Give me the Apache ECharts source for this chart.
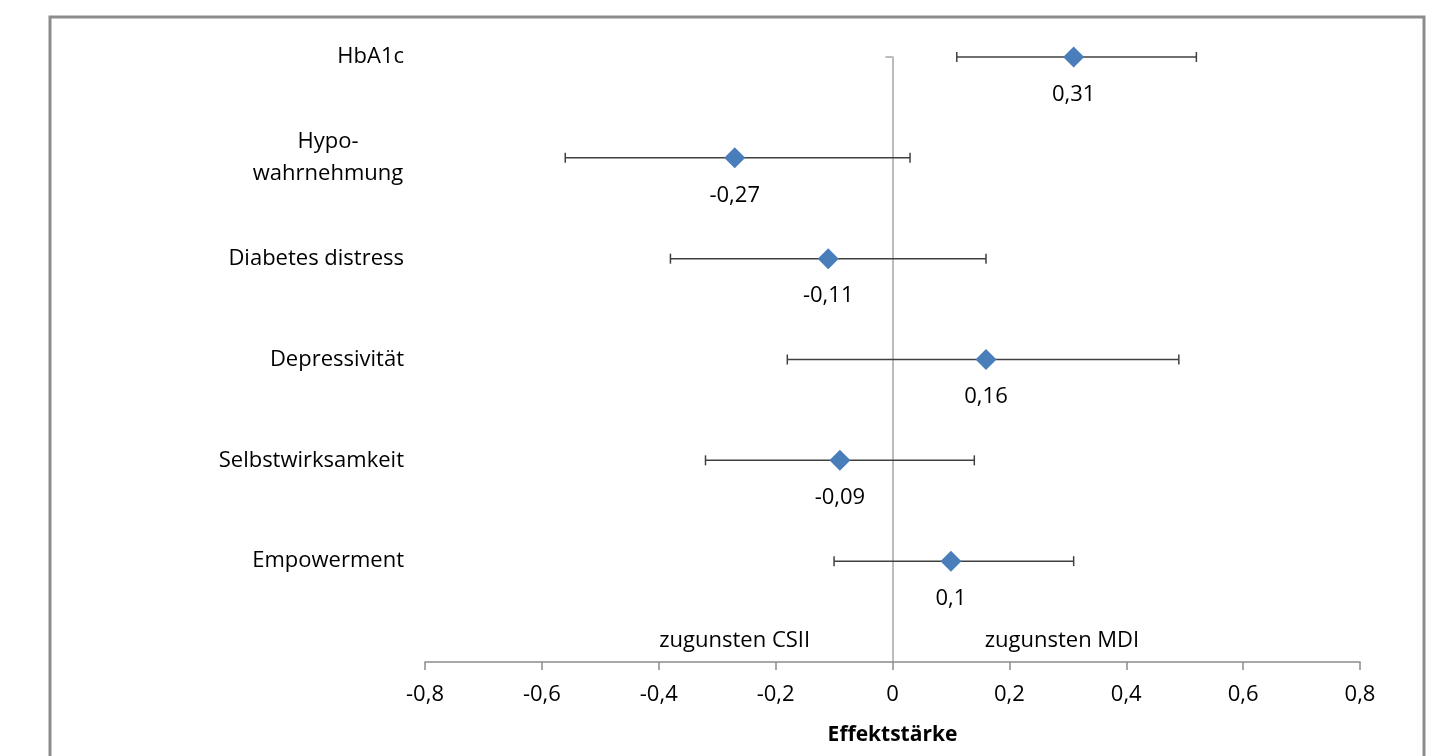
<!DOCTYPE html>
<html lang="de">
<head>
  <meta charset="UTF-8">
  <title>Effektstärke</title>
  <script src="https://cdn.jsdelivr.net/npm/echarts@6/dist/echarts.min.js"></script>
  <style>
    html, body { margin: 0; padding: 0; background: #fff; }
  </style>
</head>
<body>
  <div id="app" style="width: 1441px; height: 756px;"></div>
  <script>
    // Outcomes von oben nach unten
    var outcomes = ['HbA1c', 'Hypo-\nwahrnehmung', 'Diabetes distress', 'Depressivität', 'Selbstwirksamkeit', 'Empowerment']
    var effect = [0.31, -0.27, -0.11, 0.16, -0.09, 0.1]
    var ciLow = [0.11, -0.56, -0.38, -0.18, -0.32, -0.10]
    var ciHigh = [0.52, 0.03, 0.16, 0.49, 0.14, 0.31]

    var noteText = ['zugunsten CSII', 'zugunsten MDI']
    var noteX = [-0.27, 0.29]
    var noteY = [0.21, 0.21]

    var font = 'Open Sans'
    var fs = 22
    var n = outcomes.length

    function comma(v) {
      return String(v).replace('.', ',')
    }

    var points = []
    var bars = []
    for (var i = 0; i < n; i++) {
      var y = n - i
      points.push([effect[i], y])
      bars.push([ciLow[i], ciHigh[i], y])
    }
    var notes = []
    for (var j = 0; j < noteText.length; j++) {
      notes.push({ value: [noteX[j], noteY[j]], name: noteText[j] })
    }

    var app = document.querySelector('#app')
    var mCharts = echarts.init(app)
    var option = {
      animation: false,
      textStyle: { fontFamily: font },
      graphic: [
        {
          type: 'rect',
          shape: { x: 50, y: 17, width: 1374, height: 800 },
          style: { fill: 'none', stroke: '#8c8c8c', lineWidth: 3 },
          z: -1
        }
      ],
      grid: { left: 425, right: 81, top: 57, bottom: 94 },
      xAxis: {
        type: 'value',
        min: -0.8,
        max: 0.8,
        interval: 0.2,
        name: 'Effektstärke',
        nameLocation: 'middle',
        nameGap: 63,
        nameTextStyle: { fontFamily: font, fontSize: 21, fontWeight: 'bold', color: '#000' },
        axisLine: { lineStyle: { color: '#8c8c8c', width: 1.5 } },
        axisTick: { show: true, length: 8, lineStyle: { color: '#8c8c8c', width: 1.5 } },
        axisLabel: {
          fontFamily: font, fontSize: fs, color: '#000', margin: 22,
          formatter: function (v) { return comma(Math.round(v * 10) / 10) }
        },
        splitLine: { show: false }
      },
      yAxis: [
        {
          // senkrechte Linie bei 0
          type: 'value',
          min: 0,
          max: n,
          interval: n,
          position: 'left',
          axisLine: { onZero: true, lineStyle: { color: '#a6a6a6', width: 1.5 } },
          axisTick: { show: true, length: 7, lineStyle: { color: '#a6a6a6', width: 1.5 } },
          axisLabel: { show: false },
          splitLine: { show: false }
        },
        {
          // Beschriftungen links
          type: 'value',
          min: 0,
          max: n,
          interval: 1,
          position: 'left',
          axisLine: { show: false },
          axisTick: { show: false },
          splitLine: { show: false },
          axisLabel: {
            margin: 21,
            fontFamily: font,
            fontSize: fs,
            color: '#000',
            lineHeight: 32,
            formatter: function (v) {
              if (v < 1) return ''
              var name = outcomes[n - v]
              if (name.indexOf('\n') >= 0) {
                return name.split('\n').map(function (s) { return '{c|' + s + '}' }).join('\n')
              }
              return name
            },
            rich: {
              c: { width: 152, align: 'center', fontFamily: font, fontSize: fs, color: '#000', lineHeight: 32 }
            }
          }
        }
      ],
      series: [
        {
          type: 'custom',
          yAxisIndex: 0,
          data: bars,
          z: 2,
          renderItem: function (params, api) {
            var a = api.coord([api.value(0), api.value(2)])
            var b = api.coord([api.value(1), api.value(2)])
            var h = 5
            var st = { stroke: '#404040', lineWidth: 1.5 }
            return {
              type: 'group',
              children: [
                { type: 'line', shape: { x1: a[0], y1: a[1], x2: b[0], y2: b[1] }, style: st },
                { type: 'line', shape: { x1: a[0], y1: a[1] - h, x2: a[0], y2: a[1] + h }, style: st },
                { type: 'line', shape: { x1: b[0], y1: b[1] - h, x2: b[0], y2: b[1] + h }, style: st }
              ]
            }
          }
        },
        {
          type: 'scatter',
          yAxisIndex: 0,
          data: points,
          symbol: 'diamond',
          symbolSize: [21, 21],
          z: 3,
          itemStyle: { color: '#4a7ebb', opacity: 1 },
          label: {
            show: true,
            position: 'bottom',
            distance: 16,
            fontFamily: font,
            fontSize: fs,
            color: '#000',
            formatter: function (p) { return comma(p.value[0]) }
          }
        },
        {
          type: 'scatter',
          yAxisIndex: 0,
          data: notes,
          symbolSize: 0,
          silent: true,
          itemStyle: { opacity: 1 },
          label: {
            show: true,
            position: 'inside',
            fontFamily: font,
            fontSize: fs,
            color: '#000',
            formatter: function (p) { return p.name }
          }
        }
      ]
    }
    mCharts.setOption(option)
  </script>
</body>
</html>
